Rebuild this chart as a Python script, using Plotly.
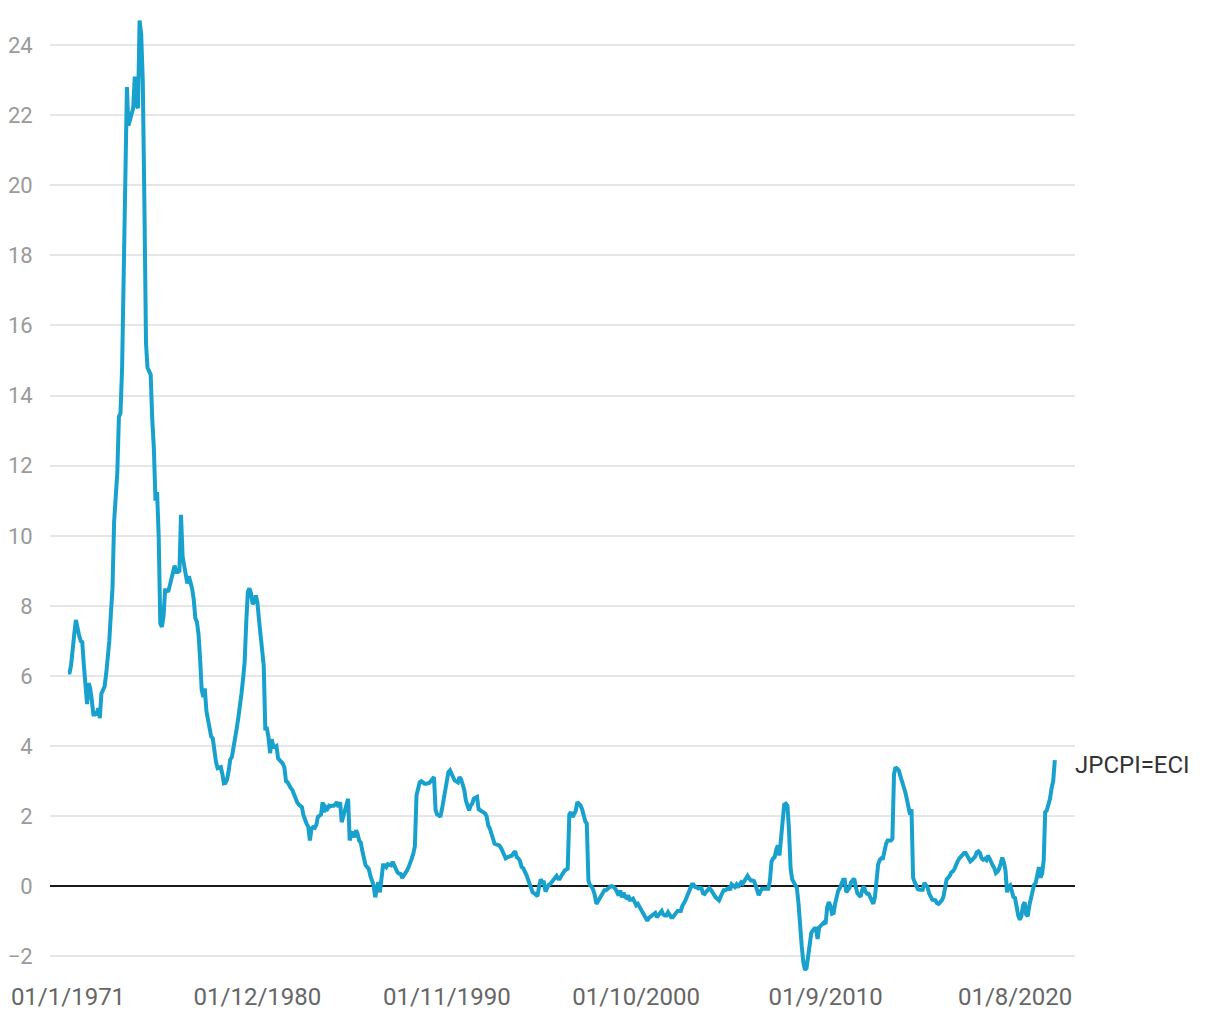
import pandas as pd
import plotly.graph_objects as go

# Monthly year-on-year values (start: Jan 1971)
start_month = "1971-01-01"
series_name = "JPCPI=ECI"

values_1970s = [
    6.1, 6.1, 6.3, 6.65, 7.2, 7.6, 7.3, 7.16, 7.0, 6.97, 6.3, 5.7,          # 1971
    5.2, 5.8, 5.65, 5.3, 4.9, 4.9, 4.93, 5.08, 4.8, 5.5, 5.6, 5.7,          # 1972
    6.07, 6.5, 7.0, 7.8, 8.5, 10.4, 11.2, 11.8, 13.4, 13.5, 14.8, 18.0,     # 1973
    21.0, 22.8, 21.7, 21.9, 22.1, 22.2, 23.1, 22.3, 22.2, 24.7, 24.3, 23.0, # 1974
    19.5, 15.5, 14.8, 14.7, 14.6, 13.3, 12.5, 11.0, 11.25, 10.0, 7.5, 7.4,  # 1975
    7.7, 8.45, 8.45, 8.4, 8.6, 8.75, 8.9, 9.15, 8.97, 8.97, 9.0, 10.6,      # 1976
    9.4, 9.1, 8.85, 8.64, 8.85, 8.7, 8.5, 8.2, 7.65, 7.55, 7.2, 6.5,        # 1977
    5.6, 5.4, 5.65, 5.0, 4.7, 4.4, 4.27, 4.22, 3.85, 3.55, 3.37, 3.38,      # 1978
    3.4, 3.2, 2.94, 2.95, 3.05, 3.3, 3.62, 3.69, 3.93, 4.25, 4.5, 4.8,      # 1979
]
values_1980s = [
    5.1, 5.5, 5.9, 6.4, 7.5, 8.4, 8.5, 8.36, 8.05, 8.11, 8.3, 8.1,          # 1980
    7.6, 7.2, 6.7, 6.3, 4.5, 4.5, 4.25, 3.8, 4.2, 4.0, 3.97, 4.0,           # 1981
    3.65, 3.6, 3.55, 3.5, 3.4, 3.0, 2.97, 2.85, 2.8, 2.75, 2.6, 2.5,        # 1982
    2.4, 2.33, 2.3, 2.26, 2.03, 1.85, 1.78, 1.7, 1.31, 1.65, 1.69, 1.67,    # 1983
    1.75, 1.98, 2.02, 2.05, 2.4, 2.12, 2.26, 2.21, 2.3, 2.28, 2.3, 2.3,     # 1984
    2.35, 2.4, 2.26, 2.4, 1.83, 2.0, 2.2, 2.4, 2.5, 1.31, 1.5, 1.55,        # 1985
    1.4, 1.6, 1.5, 1.3, 1.25, 1.0, 0.75, 0.6, 0.55, 0.5, 0.3, 0.2,          # 1986
    0.03, -0.31, -0.02, 0.12, -0.17, 0.4, 0.6, 0.6, 0.55, 0.63, 0.62, 0.6,  # 1987
    0.7, 0.6, 0.45, 0.4, 0.36, 0.35, 0.24, 0.3, 0.36, 0.45, 0.55, 0.65,     # 1988
    0.8, 0.95, 1.15, 2.6, 2.83, 2.97, 3.0, 2.95, 2.93, 2.93, 2.93, 2.95,    # 1989
]
values_1990s = [
    3.0, 3.05, 3.12, 2.17, 2.05, 2.03, 1.98, 2.2, 2.5, 2.8, 3.0, 3.26,      # 1990
    3.31, 3.22, 3.15, 3.02, 3.0, 2.97, 3.12, 3.05, 2.9, 2.75, 2.45, 2.25,   # 1991
    2.17, 2.31, 2.36, 2.5, 2.52, 2.55, 2.2, 2.17, 2.15, 2.12, 2.08, 2.0,    # 1992
    1.74, 1.65, 1.52, 1.3, 1.22, 1.2, 1.18, 1.17, 1.1, 1.0, 0.93, 0.8,      # 1993
    0.83, 0.85, 0.88, 0.88, 0.95, 1.0, 0.83, 0.8, 0.72, 0.55, 0.52, 0.45,   # 1994
    0.33, 0.2, 0.1, -0.03, -0.17, -0.2, -0.23, -0.28, 0.0, 0.2, 0.12, 0.12, # 1995
    -0.15, -0.05, 0.04, 0.07, 0.12, 0.17, 0.26, 0.3, 0.22, 0.22, 0.3, 0.41, # 1996
    0.45, 0.48, 0.5, 2.05, 2.12, 1.98, 2.05, 2.15, 2.4, 2.35, 2.31, 2.2,    # 1997
    2.0, 1.85, 1.79, 0.17, 0.03, 0.0, -0.1, -0.25, -0.5, -0.42, -0.33, -0.22,  # 1998
    -0.15, -0.11, -0.11, -0.08, -0.02, 0.0, 0.0, -0.02, -0.08, -0.15, -0.26, -0.12,  # 1999
]
values_2000s = [
    -0.31, -0.18, -0.3, -0.33, -0.26, -0.38, -0.38, -0.35, -0.45, -0.54, -0.5, -0.58,  # 2000
    -0.68, -0.78, -0.82, -0.9, -0.98, -0.9, -0.87, -0.83, -0.78, -0.76, -0.88, -0.8,   # 2001
    -0.76, -0.7, -0.8, -0.83, -0.83, -0.74, -0.82, -0.88, -0.88, -0.82, -0.78, -0.7,   # 2002
    -0.7, -0.7, -0.56, -0.5, -0.4, -0.28, -0.18, -0.08, 0.05, 0.05, -0.02, -0.03,      # 2003
    -0.06, -0.04, -0.05, -0.2, -0.22, -0.15, -0.11, -0.05, -0.1, -0.21, -0.25, -0.32,  # 2004
    -0.37, -0.4, -0.3, -0.17, -0.11, -0.11, -0.06, -0.05, -0.1, 0.06, 0.02, -0.02,     # 2005
    0.05, -0.03, 0.05, 0.12, 0.08, 0.15, 0.25, 0.3, 0.22, 0.17, 0.17, 0.15,            # 2006
    0.03, -0.12, -0.25, -0.15, -0.07, -0.07, -0.07, -0.07, -0.07, 0.15, 0.7, 0.8,      # 2007
    0.83, 1.05, 1.17, 0.88, 1.4, 1.95, 2.33, 2.36, 2.3, 1.6, 0.5, 0.2,                 # 2008
    0.12, 0.03, -0.05, -0.5, -1.2, -1.7, -2.15, -2.38, -2.33, -2.05, -1.6, -1.33,      # 2009
]
values_2010s = [
    -1.26, -1.2, -1.2, -1.5, -1.17, -1.11, -1.05, -1.03, -1.07, -0.6, -0.45, -0.55,    # 2010
    -0.78, -0.76, -0.5, -0.26, -0.12, -0.05, 0.05, 0.19, 0.19, -0.17, -0.1, -0.05,     # 2011
    0.12, 0.2, 0.22, -0.02, -0.2, -0.25, -0.3, -0.1, 0.0, -0.15, -0.21, -0.21,         # 2012
    -0.3, -0.38, -0.5, -0.3, 0.3, 0.62, 0.75, 0.8, 0.8, 1.1, 1.22, 1.31,               # 2013
    1.31, 1.31, 1.36, 3.2, 3.4, 3.33, 3.31, 3.15, 3.0, 2.9, 2.7, 2.5,                  # 2014
    2.27, 2.05, 2.2, 0.25, 0.12, 0.03, -0.08, -0.1, -0.1, -0.1, 0.1, 0.05,             # 2015
    -0.02, -0.2, -0.33, -0.38, -0.39, -0.4, -0.48, -0.5, -0.45, -0.4, -0.3, 0.05,      # 2016
    0.2, 0.25, 0.3, 0.4, 0.43, 0.5, 0.63, 0.72, 0.8, 0.85, 0.9, 0.95,                  # 2017
    0.95, 0.88, 0.78, 0.71, 0.75, 0.8, 0.85, 0.97, 1.0, 0.95, 0.8, 0.76,               # 2018
    0.79, 0.75, 0.88, 0.8, 0.68, 0.6, 0.52, 0.38, 0.42, 0.5, 0.65, 0.82,               # 2019
]
values_2020s = [
    0.69, 0.45, -0.17, 0.0, 0.03, -0.1, -0.3, -0.33, -0.6, -0.83, -0.95, -0.85,        # 2020
    -0.55, -0.45, -0.8, -0.85, -0.55, -0.31, -0.05, 0.05, 0.1, 0.35, 0.55, 0.25,       # 2021
    0.36, 0.75, 2.12, 2.17, 2.3, 2.5, 2.8, 3.0, 3.6,                                   # 2022
]

x_tick_dates = ["1971-01-01", "1980-12-01", "1990-11-01", "2000-10-01", "2010-09-01", "2020-08-01"]
x_tick_labels = ["01/1/1971", "01/12/1980", "01/11/1990", "01/10/2000", "01/9/2010", "01/8/2020"]
y_tick_values = [-2, 0, 2, 4, 6, 8, 10, 12, 14, 16, 18, 20, 22, 24]

values = values_1970s + values_1980s + values_1990s + values_2000s + values_2010s + values_2020s
dates = pd.date_range(start_month, periods=len(values), freq="MS")

FONT = "Roboto, 'Noto Sans', sans-serif"

fig = go.Figure()
fig.add_trace(go.Scatter(
    x=dates, y=values, mode="lines", name=series_name,
    line=dict(color="#18a1cd", width=4), hoverinfo="skip",
))

fig.add_annotation(
    x=dates[-1], y=values[-1], xref="x", yref="y",
    text=series_name, showarrow=False, xanchor="left", yanchor="middle",
    xshift=18, yshift=-5, font=dict(family=FONT, size=24, color="#333333"),
)

# page body has an 8px default margin, so the figure is sized 8px smaller
fig.update_layout(
    width=1212, height=1012,
    margin=dict(l=42, r=145, t=9, b=46),
    paper_bgcolor="white", plot_bgcolor="white",
    showlegend=False,
    font=dict(family=FONT, size=22, color="#666666"),
)
fig.update_xaxes(
    type="date", range=["1970-01-22", "2023-09-22"],
    tickvals=x_tick_dates, ticktext=x_tick_labels,
    showgrid=False, zeroline=False, showline=False, automargin=False,
    ticks="outside", ticklen=1, tickcolor="rgba(0,0,0,0)",
    tickfont=dict(family=FONT, size=24, color="#666666"),
)
fig.update_yaxes(
    range=[-2.5, 24.8], tickvals=y_tick_values,
    showgrid=True, gridcolor="#e6e6e6", gridwidth=2,
    zeroline=True, zerolinecolor="#1a1a1a", zerolinewidth=2,
    showline=False, automargin=False,
    ticks="outside", ticklen=12, tickcolor="rgba(0,0,0,0)",
    tickfont=dict(family=FONT, size=22, color="#9a9a9a"),
)

fig.write_html("out.html")
